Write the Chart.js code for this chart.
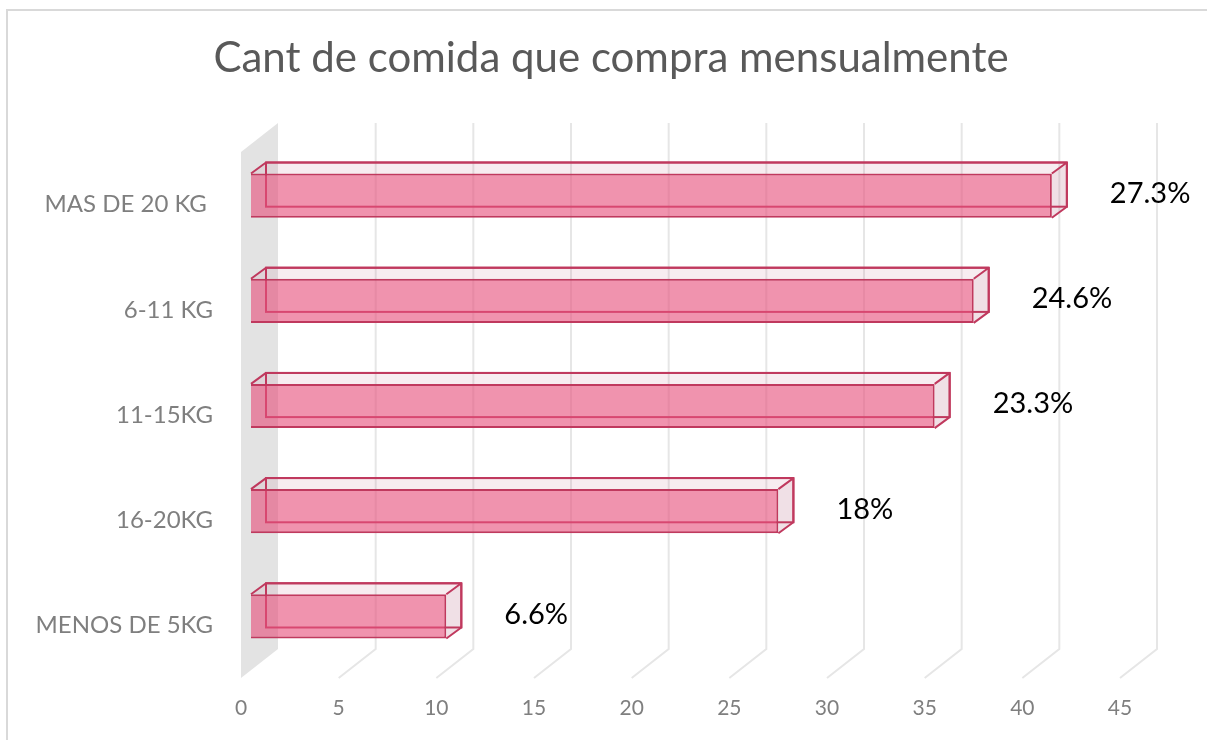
<!DOCTYPE html>
<html>
<head>
<meta charset="utf-8">
<script src="https://cdn.jsdelivr.net/npm/chart.js@4.4.0/dist/chart.umd.min.js"></script>
<style>
  html, body { margin: 0; padding: 0; background: #fff; }
  #wrap { position: relative; width: 1207px; height: 740px; }
</style>
</head>
<body>
<div id="wrap"><canvas id="myChart"></canvas></div>
<script>
const titulo = 'Cant de comida que compra mensualmente'
const categorias = ['MAS DE 20 KG ', '6-11 KG', '11-15KG', '16-20KG', 'MENOS DE 5KG']
const valores = [41, 37, 35, 27, 10]
const porcentajes = [27.3, 24.6, 23.3, 18, 6.6]
const ejeMin = 0
const ejeMax = 45
const ejePaso = 5

const ctx = document.getElementById('myChart')

// profundidad del "3D" (piso / pared) y de las barras
const prof = { dx: 37, dy: -29 }
const frente = { dx: 10, dy: -9 }
const fondo = { dx: 15, dy: -11 }
const colorBorde = '#C0395E'

// ajusto el tamaño del titulo al ancho del original
const medir = document.createElement('canvas').getContext('2d')
medir.font = '40px Lato'
const tamTitulo = Math.round(40 * 800 / medir.measureText(titulo).width)
const altoArriba = 152
const padTitulo = Math.round(58 - tamTitulo * 0.6)

function caras(bar) {
  const L = Math.min(bar.base, bar.x) + frente.dx
  const R = Math.max(bar.base, bar.x) + frente.dx
  const T = bar.y - bar.height / 2 + frente.dy
  const B = bar.y + bar.height / 2 + frente.dy
  return { L, R, T, B }
}

const efecto3d = {
  id: 'efecto3d',
  beforeDraw(chart) {
    const c = chart.ctx
    c.save()
    c.strokeStyle = '#D9D9D9'
    c.lineWidth = 2
    c.beginPath()
    c.moveTo(7, 740)
    c.lineTo(7, 10)
    c.lineTo(1207, 10)
    c.stroke()
    c.restore()
  },
  beforeDatasetsDraw(chart) {
    const c = chart.ctx
    const a = chart.chartArea
    const x = chart.scales.x
    c.save()
    // pared gris
    const x0 = x.getPixelForValue(ejeMin)
    c.fillStyle = '#E3E3E3'
    c.beginPath()
    c.moveTo(x0, a.bottom)
    c.lineTo(x0 + prof.dx, a.bottom + prof.dy)
    c.lineTo(x0 + prof.dx, a.top + prof.dy)
    c.lineTo(x0, a.top)
    c.closePath()
    c.fill()
    // lineas de division
    c.strokeStyle = '#E6E6E6'
    c.lineWidth = 2
    x.ticks.forEach(t => {
      if (t.value === ejeMin) return
      const px = x.getPixelForValue(t.value)
      c.beginPath()
      c.moveTo(px, a.bottom)
      c.lineTo(px + prof.dx, a.bottom + prof.dy)
      c.lineTo(px + prof.dx, a.top + prof.dy)
      c.stroke()
    })
    // caras traseras de las barras
    chart.getDatasetMeta(0).data.forEach(bar => {
      const { L, R, T, B } = caras(bar)
      c.fillStyle = 'rgba(200, 120, 150, 0.14)'
      c.beginPath()
      c.moveTo(L, T)
      c.lineTo(L + fondo.dx, T + fondo.dy)
      c.lineTo(R + fondo.dx, T + fondo.dy)
      c.lineTo(R, T)
      c.closePath()
      c.fill()
      c.fillStyle = 'rgba(180, 100, 130, 0.2)'
      c.beginPath()
      c.moveTo(R, T)
      c.lineTo(R + fondo.dx, T + fondo.dy)
      c.lineTo(R + fondo.dx, B + fondo.dy)
      c.lineTo(R, B)
      c.closePath()
      c.fill()
      c.strokeStyle = colorBorde
      c.lineWidth = 2
      c.strokeRect(L + fondo.dx, T + fondo.dy, R - L, B - T)
    })
    c.restore()
    c.save()
    c.translate(frente.dx, frente.dy)
  },
  afterDatasetsDraw(chart) {
    const c = chart.ctx
    c.restore()
    c.save()
    chart.getDatasetMeta(0).data.forEach((bar, i) => {
      const { L, R, T, B } = caras(bar)
      c.strokeStyle = colorBorde
      c.lineWidth = 2
      c.lineJoin = 'round'
      c.beginPath()
      c.moveTo(L, T)
      c.lineTo(L + fondo.dx, T + fondo.dy)
      c.lineTo(R + fondo.dx, T + fondo.dy)
      c.lineTo(R, T)
      c.moveTo(R + fondo.dx, T + fondo.dy)
      c.lineTo(R + fondo.dx, B + fondo.dy)
      c.lineTo(R, B)
      c.stroke()
      // etiqueta
      c.fillStyle = '#000'
      c.font = '29px Lato'
      c.textAlign = 'left'
      c.textBaseline = 'middle'
      c.fillText(porcentajes[i] + '%', R + fondo.dx + 43, (T + B) / 2 - 2)
    })
    c.restore()
  }
}

new Chart(ctx, {
  type: 'bar',
  data: {
    labels: categorias,
    datasets: [
      {
        data: valores,
        backgroundColor: 'rgba(230, 80, 125, 0.62)',
        borderColor: colorBorde,
        borderWidth: 2,
        barPercentage: 0.42,
        categoryPercentage: 1,
        clip: false
      }
    ]
  },
  options: {
    indexAxis: 'y',
    responsive: true,
    maintainAspectRatio: false,
    animation: false,
    layout: { padding: { top: 0, left: 15, right: 0, bottom: 0 } },
    plugins: {
      legend: { display: false },
      tooltip: { enabled: false },
      title: {
        display: true,
        text: titulo,
        color: '#595959',
        font: { family: 'Lato', size: tamTitulo, weight: 'normal' },
        padding: { top: padTitulo, bottom: altoArriba - padTitulo - tamTitulo * 1.2 }
      }
    },
    scales: {
      x: {
        min: ejeMin,
        max: ejeMax,
        ticks: {
          stepSize: ejePaso,
          color: '#7F7F7F',
          font: { family: 'Lato', size: 21 },
          padding: 18
        },
        grid: { display: false, drawTicks: false },
        border: { display: false },
        afterFit(scale) { scale.height = 740 - 678 }
      },
      y: {
        ticks: {
          color: '#7F7F7F',
          font: { family: 'Lato', size: 24 },
          padding: 28
        },
        grid: { display: false, drawTicks: false },
        border: { display: false },
        afterFit(scale) { scale.width = 241 - 15 }
      },
      // espacio vacio a la derecha para las etiquetas
      derecha: {
        type: 'linear',
        position: 'right',
        ticks: { display: false },
        grid: { display: false, drawTicks: false },
        border: { display: false },
        afterFit(scale) { scale.width = 1207 - 1120 }
      }
    }
  },
  plugins: [efecto3d]
})
</script>
</body>
</html>
